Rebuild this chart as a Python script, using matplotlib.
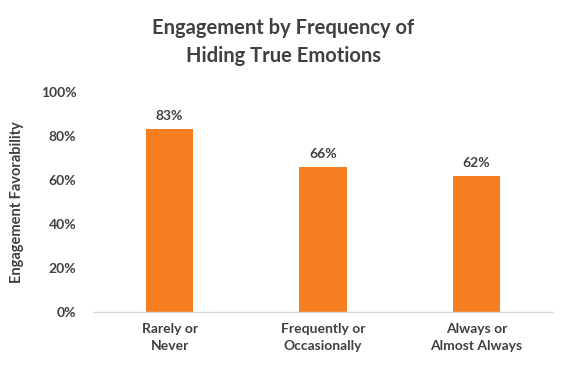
import matplotlib
matplotlib.use("Agg")
import matplotlib.pyplot as plt
from matplotlib.ticker import FuncFormatter

categories = ["Rarely or\nNever", "Frequently or\nOccasionally", "Always or\nAlmost Always"]
values = [0.83, 0.66, 0.62]
value_labels = ["83%", "66%", "62%"]
yticks = [0, 0.2, 0.4, 0.6, 0.8, 1.0]

plt.rcParams['font.family'] = ['Lato', 'DejaVu Sans']
txt = "#404040"
orange = "#F47E20"

fig = plt.figure(figsize=(5.66, 3.77), dpi=100)
ax = fig.add_axes([93/566, 65/377, 460/566, 220/377])

x = list(range(len(categories)))
ax.bar(x, values, width=0.31, color=orange, zorder=2)
ax.set_xlim(-0.5, len(categories) - 0.5)
ax.set_ylim(0, 1.0)
ax.set_yticks(yticks)
ax.yaxis.set_major_formatter(FuncFormatter(lambda v, p: f"{v*100:.0f}%"))
ax.set_xticks(x)
ax.set_xticklabels(categories, fontsize=10, fontweight='bold', color=txt, linespacing=1.5)
for lbl in ax.get_yticklabels():
    lbl.set_fontsize(10)
    lbl.set_fontweight('bold')
    lbl.set_color(txt)
ax.tick_params(axis='both', length=0)
ax.tick_params(axis='y', pad=12)
ax.tick_params(axis='x', pad=8)
for s in ['top', 'right', 'left']:
    ax.spines[s].set_visible(False)
ax.spines['bottom'].set_color("#D9D9D9")
ax.spines['bottom'].set_linewidth(1)

for xi, v, l in zip(x, values, value_labels):
    ax.annotate(l, (xi, v), xytext=(0, 5), textcoords='offset points',
                ha='center', va='bottom', fontsize=10, fontweight='bold', color=txt)

ax.set_ylabel("Engagement Favorability", fontsize=10.5, fontweight='bold', color=txt, labelpad=12)

fig.text(0.5, 1 - 42/377, "Engagement by Frequency of\nHiding True Emotions", ha='center', va='center',
         fontsize=14.5, fontweight='bold', color=txt, linespacing=1.45)

fig.savefig("out.png", dpi=100, facecolor='white')
